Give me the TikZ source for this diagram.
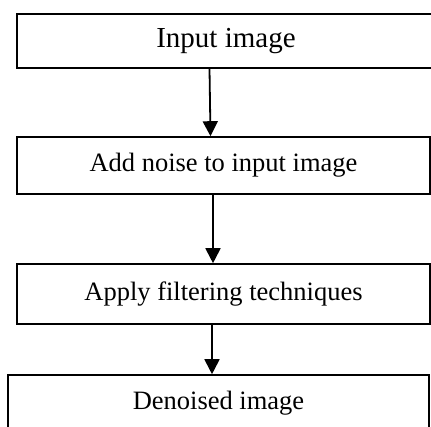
\documentclass[tikz,border=0pt]{standalone}
\usepackage{fontspec}
\setmainfont{Liberation Serif}
\usetikzlibrary{arrows.meta}
\begin{document}
\begin{tikzpicture}[x=1pt,y=-1pt,
  stepbox/.style={draw=black,line width=1.6pt,inner sep=0pt,anchor=center,
    font=\fontsize{26.5}{30}\selectfont},
  arr/.style={line width=1.8pt,-{Triangle[length=15pt,width=15pt]}}]
\clip (0,0) rectangle (431,426);
\useasboundingbox (0,0) rectangle (431,426);
\fill[white] (0,0) rectangle (431,426);
\node[stepbox,minimum width=418pt,minimum height=54pt,font=\fontsize{29}{32}\selectfont] (a) at (226,41) {Input image};
\node[stepbox,minimum width=413pt,minimum height=57pt] (b) at (223.5,165.5) {Add noise to input image};
\node[stepbox,minimum width=413pt,minimum height=60pt] (c) at (223.5,294) {Apply filtering techniques};
\node[stepbox,minimum width=421pt,minimum height=57pt] (d) at (218.5,403.5) {Denoised image};
\draw[arr] ([xshift=-16.5pt]a.south) -- ([xshift=-13pt]b.north);
\draw[arr] ([xshift=-10.5pt]b.south) -- ([xshift=-10.5pt]c.north);
\draw[arr] ([xshift=-11.5pt]c.south) -- ([xshift=-6.5pt]d.north);
\end{tikzpicture}
\end{document}
